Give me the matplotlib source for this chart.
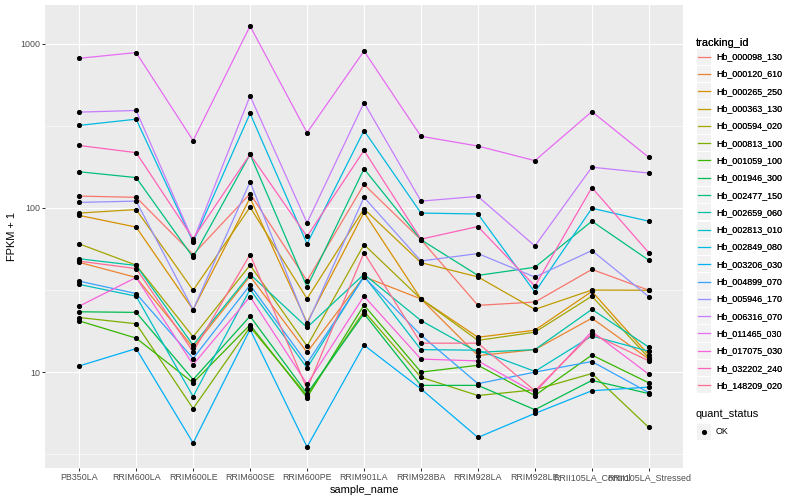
import numpy as np
import matplotlib
matplotlib.use("Agg")
import matplotlib.pyplot as plt
from matplotlib.lines import Line2D
from matplotlib.patches import Rectangle
from matplotlib.legend_handler import HandlerBase

plt.rcParams['font.family'] = ['Liberation Sans', 'DejaVu Sans']

samples = ["PB350LA", "RRIM600LA", "RRIM600LE", "RRIM600SE", "RRIM600PE", "RRIM901LA",
           "RRIM928BA", "RRIM928LA", "RRIM928LE", "RRII105LA_Control", "RRII105LA_Stressed"]

tracking_ids = ["Hb_000098_130", "Hb_000120_610", "Hb_000265_250", "Hb_000363_130",
                "Hb_000594_020", "Hb_000813_100", "Hb_001059_100", "Hb_001946_300",
                "Hb_002477_150", "Hb_002659_060", "Hb_002813_010", "Hb_002849_080",
                "Hb_003206_030", "Hb_004899_070", "Hb_005946_170", "Hb_006316_070",
                "Hb_011465_030", "Hb_017075_030", "Hb_032202_240", "Hb_148209_020"]

hb_000098_130 = [118, 116, 52, 122, 36, 139, 64, 25.5, 26.7, 42.2, 31.5]
hb_000120_610 = [46.6, 37.7, 14.1, 38.4, 13.2, 38.1, 27.9, 12.6, 13.7, 21.3, 12.0]
hb_000265_250 = [90, 76.4, 24, 115, 20, 94, 27.9, 16.3, 18.0, 31, 12.7]
hb_000363_130 = [93, 97.7, 31.5, 101, 28, 98.6, 46.4, 38, 24.1, 31.6, 31.5]
hb_000594_020 = [60.4, 44.8, 16.4, 44.8, 14.4, 59.8, 27.9, 15.6, 17.5, 29, 12.2]
hb_000813_100 = [21.5, 19.7, 6.0, 18.8, 7.2, 23.5, 9.3, 7.2, 7.8, 9.8, 4.6]
hb_001059_100 = [20.5, 16.1, 8.6, 19.4, 7.0, 25.6, 10.0, 11.0, 7.2, 12.7, 8.6]
hb_001946_300 = [23.3, 23.1, 9.0, 21.9, 7.4, 22.7, 8.3, 8.3, 5.9, 8.9, 7.4]
hb_002477_150 = [166, 153, 50, 212, 33, 173, 64, 38.8, 43.5, 83, 48]
hb_002659_060 = [49, 44.6, 14.6, 39.4, 18.7, 39.4, 20.6, 13.2, 13.7, 24.1, 14.2]
hb_002813_010 = [34.2, 29, 7.1, 31.9, 10.6, 38.5, 13.7, 13.6, 10.1, 16.6, 13.4]
hb_002849_080 = [318, 347, 62, 376, 60.4, 296, 93, 91.8, 30.7, 99.5, 83]
hb_003206_030 = [10.9, 13.9, 3.7, 18.2, 3.5, 14.6, 7.9, 4.0, 5.6, 7.7, 8.1]
hb_004899_070 = [35.8, 30.1, 12.1, 33.9, 11.3, 38, 16.8, 8.5, 10.0, 11.6, 7.5]
hb_005946_170 = [108, 110, 24, 144, 19.5, 116, 47.5, 52.7, 37.9, 55, 28.8]
hb_006316_070 = [383, 392, 63, 481, 81, 438, 110, 117.5, 58.6, 177, 163]
hb_011465_030 = [815, 883, 257, 1281, 287, 903, 273, 238, 194, 386, 203]
hb_017075_030 = [25.2, 37.7, 11.1, 28.8, 8.45, 29, 12, 11.7, 7.5, 17.7, 9.7]
hb_032202_240 = [240, 217, 65, 212, 67, 224, 64.5, 77, 33.4, 133, 53.3]
hb_148209_020 = [47.4, 42.7, 13.3, 52, 7.9, 53.3, 15, 15, 7.7, 17.1, 11.7]

series = [hb_000098_130, hb_000120_610, hb_000265_250, hb_000363_130, hb_000594_020,
          hb_000813_100, hb_001059_100, hb_001946_300, hb_002477_150, hb_002659_060,
          hb_002813_010, hb_002849_080, hb_003206_030, hb_004899_070, hb_005946_170,
          hb_006316_070, hb_011465_030, hb_017075_030, hb_032202_240, hb_148209_020]

quant_status = ["OK"]

palette = ["#F8766D", "#EA8331", "#D89000", "#C09B00", "#A3A500", "#7CAE00", "#39B600",
           "#00BB4E", "#00BF7D", "#00C1A3", "#00BFC4", "#00BAE0", "#00B0F6", "#35A2FF",
           "#9590FF", "#C77CFF", "#E76BF3", "#FA62DB", "#FF62BC", "#FF6C91"]

W, H = 800, 500
fig = plt.figure(figsize=(W / 100, H / 100), dpi=100)
fig.patch.set_facecolor("white")
L, R, T, B = 45, 683, 5, 468
ax = fig.add_axes([L / W, 1 - B / H, (R - L) / W, (B - T) / H])
ax.set_facecolor("#EBEBEB")
for s in ax.spines.values():
    s.set_visible(False)

x = np.arange(len(samples))
for vals, col in zip(series, palette):
    ax.plot(x, vals, color=col, lw=0.9, zorder=3, solid_capstyle="butt")
for vals in series:
    ax.plot(x, vals, ls="none", marker="o", ms=2.7, color="black", zorder=4)

ax.set_yscale("log")
ax.set_yticks([10, 100, 1000])
ax.set_yticklabels(["10", "100", "1000"])
ax.set_yticks([10 ** 0.5, 10 ** 1.5, 10 ** 2.5], minor=True)
ax.set_xticks(x)
ax.set_xticklabels(samples)

allv = np.concatenate([np.asarray(v, float) for v in series])
lo, hi = np.log10(allv.min()), np.log10(allv.max())
pad = (hi - lo) * 0.05
ax.set_ylim(10 ** (lo - pad), 10 ** (hi + pad))
ax.set_xlim(-0.6, len(samples) - 1 + 0.6)

ax.tick_params(axis="both", which="major", length=2.0, width=0.75, color="#333333",
               labelsize=6.4, labelcolor="#4D4D4D", pad=1.6)
ax.tick_params(axis="both", which="minor", length=0)
ax.grid(True, which="major", color="white", lw=0.8, zorder=0)
ax.grid(True, which="minor", color="white", lw=0.4, zorder=0)
ax.set_axisbelow(True)

ax.set_xlabel("sample_name", fontsize=7.9, color="black", labelpad=2.5)
ax.set_ylabel("FPKM + 1", fontsize=7.9, color="black", labelpad=2.5)


class KeyHandler(HandlerBase):
    def __init__(self, kind):
        super().__init__()
        self.kind = kind

    def create_artists(self, legend, orig_handle, xdescent, ydescent, width, height, fontsize, trans):
        x0, y0 = -xdescent, -ydescent
        rect = Rectangle((x0 + 0.4, y0 + 0.4), width - 0.8, height - 0.8, facecolor="#F2F2F2",
                         edgecolor="none", transform=trans)
        if self.kind == "line":
            art = Line2D([x0 + 0.1 * width, x0 + 0.9 * width], [y0 + height / 2] * 2,
                         color=orig_handle.get_color(), lw=0.9, transform=trans)
        else:
            art = Line2D([x0 + width / 2], [y0 + height / 2], ls="none", marker="o",
                         ms=2.7, color="black", transform=trans)
        return [rect, art]


fs_leg = 6.4
row_pt = 17.3 * 72 / 100
hh = (row_pt / fs_leg - 0.245) / 0.65
hl = (16.0 * 72 / 100) / fs_leg
tp = (4.0 * 72 / 100) / fs_leg

handles = [Line2D([], [], color=c) for c in palette]
leg1 = fig.legend(handles, tracking_ids, loc="upper left",
                  bbox_to_anchor=(696 / W, 1 - 38 / H), frameon=False,
                  fontsize=fs_leg, title="tracking_id", title_fontsize=7.9,
                  alignment="left", borderpad=0, borderaxespad=0,
                  handlelength=hl, handleheight=hh,
                  labelspacing=0.0, handletextpad=tp,
                  handler_map={h: KeyHandler("line") for h in handles})
fig.add_artist(leg1)

okh = Line2D([], [], color="black")
leg2 = fig.legend([okh], quant_status, loc="upper left",
                  bbox_to_anchor=(696 / W, 1 - 409 / H), frameon=False,
                  fontsize=fs_leg, title="quant_status", title_fontsize=7.9,
                  alignment="left", borderpad=0, borderaxespad=0,
                  handlelength=hl, handleheight=hh,
                  labelspacing=0.45, handletextpad=tp,
                  handler_map={okh: KeyHandler("point")})

fig.savefig("out.png", dpi=100)
